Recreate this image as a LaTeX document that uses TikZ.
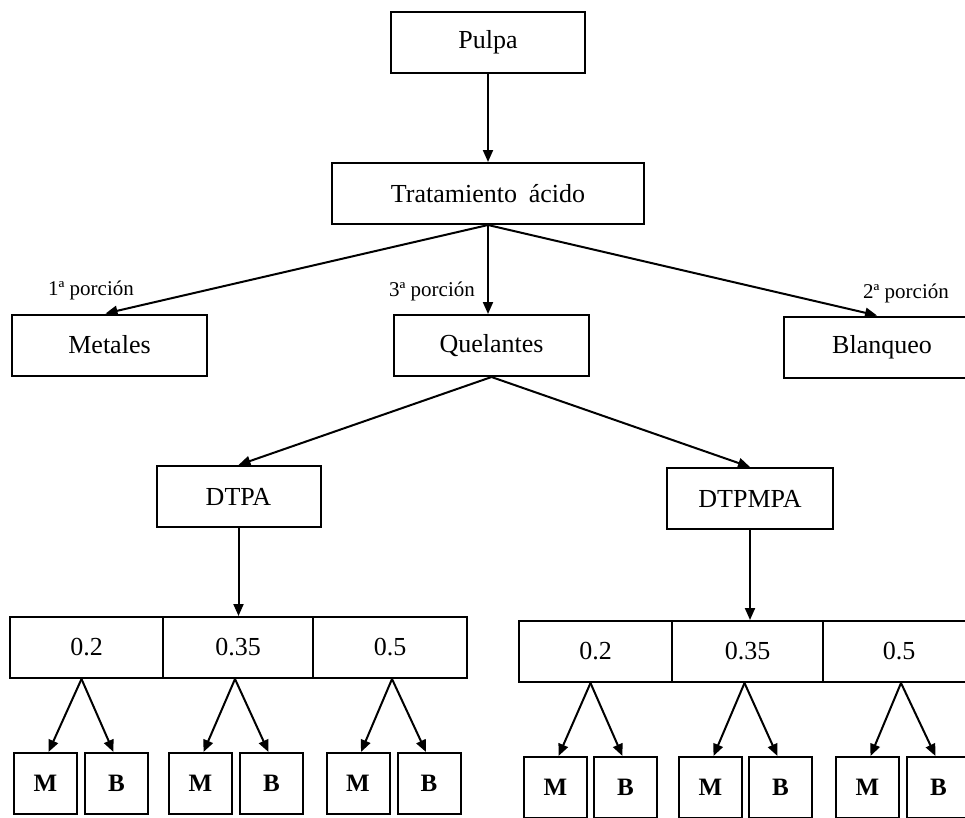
\documentclass[tikz,border=0pt]{standalone}
\usepackage{fontspec}
\setmainfont{Liberation Serif}
\usetikzlibrary{arrows.meta}
\begin{document}
\begin{tikzpicture}[x=1pt,y=-1pt,
  box/.style={draw, line width=2pt, inner sep=0pt, minimum height=61pt,
    font=\fontsize{26}{30}\selectfont},
  wide/.style={box, minimum width=195pt},
  mid/.style={box, minimum width=164pt},
  val/.style={box, minimum width=152pt},
  leaf/.style={box, minimum width=63pt, font=\fontsize{25}{28}\selectfont\bfseries},
  tag/.style={inner sep=0pt, font=\fontsize{21}{24}\selectfont},
  conn/.style={line width=2pt, -{Triangle[length=12pt,width=10pt]}}
]
\clip (0,0) rectangle (965,817);

% main chain
\node[box, minimum width=194pt] (pulpa) at (488,42.5) {Pulpa};
\node[box, minimum width=312pt] (trat) at (488,193.5) {Tratamiento\hspace{0.45em}ácido};

% the three portions
\node[wide] (metales) at (109.5,345) {Metales};
\node[wide] (quel) at (491.5,345.5) {Quelantes};
\node[wide, minimum width=196pt] (blanq) at (882,347) {Blanqueo};

\node[tag] (t1) at (91,290) {1ª porción};
\node[tag] (t3) at (432,291) {3ª porción};
\node[tag] (t2) at (906,293) {2ª porción};

% chelating agents
\node[mid] (dtpa) at (238.5,496.5) {DTPA};
\node[mid, minimum width=166pt] (dtpmpa) at (750,498.5) {DTPMPA};

% dose rows
\node[val, minimum width=153pt] (l02) at (86.5,647.5) {0.2};
\node[val, minimum width=150pt] (l035) at (238,647.5) {0.35};
\node[val, minimum width=154pt] (l05) at (390,647.5) {0.5};

\node[val, minimum width=153pt] (r02) at (595.5,651.5) {0.2};
\node[val, minimum width=151pt] (r035) at (747.5,651.5) {0.35};
\node[val] (r05) at (899,651.5) {0.5};

% M / B leaves
\node[leaf] (lm1) at (45.5,783.5) {M};
\node[leaf] (lb1) at (116.5,783.5) {B};
\node[leaf] (lm2) at (200.5,783.5) {M};
\node[leaf] (lb2) at (271.5,783.5) {B};
\node[leaf] (lm3) at (358,783.5) {M};
\node[leaf] (lb3) at (429,783.5) {B};

\node[leaf] (rm1) at (555.5,787.5) {M};
\node[leaf] (rb1) at (625.5,787.5) {B};
\node[leaf] (rm2) at (710.5,787.5) {M};
\node[leaf] (rb2) at (780.5,787.5) {B};
\node[leaf] (rm3) at (867.5,787.5) {M};
\node[leaf] (rb3) at (938.5,787.5) {B};

% connectors
\draw[conn] (pulpa.south) -- (trat.north);
\draw[conn] (trat.south) -- ([xshift=-4pt]metales.north);
\draw[conn] (trat.south) -- (trat.south |- quel.north);
\draw[conn] (trat.south) -- ([xshift=-5pt]blanq.north);

\draw[conn] (quel.south) -- (dtpa.north);
\draw[conn] (quel.south) -- (dtpmpa.north);

\draw[conn] (dtpa.south) -- (dtpa.south |- l035.north);
\draw[conn] (dtpmpa.south) -- (dtpmpa.south |- r035.north);

\foreach \v/\m/\b/\dx in {l02/lm1/lb1/-5, l035/lm2/lb2/-3, l05/lm3/lb3/2,
                          r02/rm1/rb1/-5, r035/rm2/rb2/-3, r05/rm3/rb3/2} {
  \draw[conn] ([xshift=\dx pt]\v.south) -- ([xshift=3pt]\m.north);
  \draw[conn] ([xshift=\dx pt]\v.south) -- ([xshift=-3pt]\b.north);
}
\end{tikzpicture}
\end{document}
